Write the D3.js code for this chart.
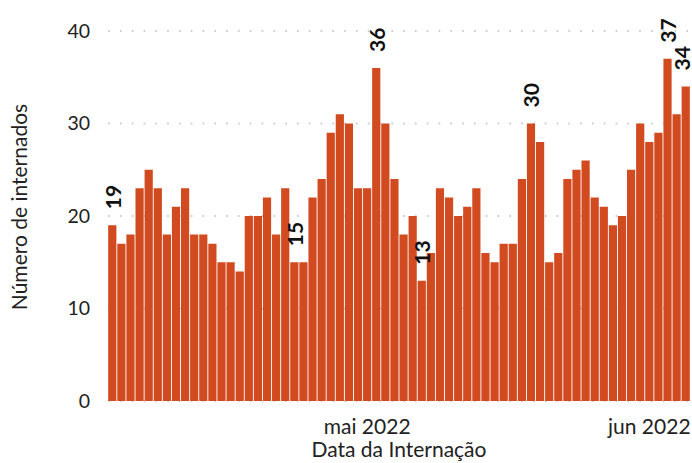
<!DOCTYPE html>
<html>
<head>
<meta charset="utf-8">
<script src="https://cdn.jsdelivr.net/npm/d3@7"></script>
<style>
  body { margin: 0; background: #fff; }
  text { font-family: Lato, "Open Sans", sans-serif; }
</style>
</head>
<body>
<div id="chart"></div>
<script>
// daily admissions, 3 Apr 2022 .. 5 Jun 2022
const startDate = "2022-04-03";
const counts = [19, 17, 18, 23, 25, 23, 18, 21, 23, 18, 18, 17, 15, 15, 14, 20,
    20, 22, 18, 23, 15, 15, 22, 24, 29, 31, 30, 23, 23, 36, 30, 24,
    18, 20, 13, 16, 23, 22, 20, 21, 23, 16, 15, 17, 17, 24, 30, 28,
    15, 16, 24, 25, 26, 22, 21, 19, 20, 25, 30, 28, 29, 37, 31, 34];
// bars that carry a value label (index into counts)
const labelled = [0, 20, 29, 34, 46, 61, 63];
const yTicks = [0, 10, 20, 30, 40];
const xTickDates = ["2022-05-01", "2022-06-01"];
const xTickLabels = ["mai 2022", "jun 2022"];

const width = 692, height = 463;
const margin = { top: 31, right: 2, bottom: 62, left: 108 };

const parse = d3.timeParse("%Y-%m-%d");
const day0 = parse(startDate);
const data = counts.map((v, i) => ({ date: d3.timeDay.offset(day0, i), value: v, i: i }));

const svg = d3.select("#chart")
    .append("svg")
    .attr("width", width)
    .attr("height", height);

const x = d3.scaleBand()
    .domain(data.map(d => d.i))
    .range([margin.left, width - margin.right])
    .paddingInner(0.1)
    .paddingOuter(0.02);

const y = d3.scaleLinear()
    .domain([0, 40])
    .range([height - margin.bottom, margin.top]);

// dotted horizontal grid
svg.append("g")
    .selectAll("line")
    .data(yTicks)
    .join("line")
    .attr("x1", margin.left + 1)
    .attr("x2", width - margin.right)
    .attr("y1", d => y(d))
    .attr("y2", d => y(d))
    .attr("stroke", "#c8c8c8")
    .attr("stroke-width", 2)
    .attr("stroke-linecap", "round")
    .attr("stroke-dasharray", "0,11.8");

svg.append("g")
    .selectAll("rect")
    .data(data)
    .join("rect")
    .attr("x", d => x(d.i))
    .attr("width", x.bandwidth())
    .attr("y", d => y(d.value))
    .attr("height", d => y(0) - y(d.value))
    .attr("fill", "#d24a20");

// value labels (kept inside the right edge)
svg.append("g")
    .selectAll("text")
    .data(labelled.map(i => data[i]))
    .join("text")
    .attr("transform", d => {
        const cx = Math.min(x(d.i) + x.bandwidth() / 2, width - 11);
        return `translate(${cx},${y(d.value) - 16}) rotate(-90)`;
    })
    .attr("dominant-baseline", "central")
    .attr("font-size", 21)
    .attr("font-weight", "bold")
    .attr("fill", "#111")
    .text(d => d.value);

// y axis
const yAxis = svg.append("g")
    .attr("transform", `translate(${margin.left - 10},0)`)
    .call(d3.axisLeft(y).tickValues(yTicks).tickSize(0).tickPadding(8));
yAxis.select(".domain").remove();
yAxis.selectAll("text")
    .attr("font-size", 19.5)
    .attr("fill", "#222")
    .style("font-family", "Lato, sans-serif");

// x axis: ticks on the first day of each month
const tickIdx = xTickDates.map(s => d3.timeDay.count(day0, parse(s)));
const xAxis = svg.append("g")
    .attr("transform", `translate(0,${height - margin.bottom})`)
    .call(d3.axisBottom(x).tickValues(tickIdx).tickSize(0).tickPadding(18)
        .tickFormat((d, k) => xTickLabels[k]));
xAxis.select(".domain").remove();
xAxis.selectAll("text")
    .attr("font-size", 21)
    .attr("fill", "#222")
    .style("font-family", "Lato, sans-serif");

svg.append("text")
    .attr("x", 399)
    .attr("y", 457)
    .attr("text-anchor", "middle")
    .attr("font-size", 21)
    .attr("fill", "#222")
    .text("Data da Internação");

svg.append("text")
    .attr("transform", "translate(27,207) rotate(-90)")
    .attr("text-anchor", "middle")
    .attr("font-size", 21)
    .attr("fill", "#222")
    .text("Número de internados");
</script>
</body>
</html>
